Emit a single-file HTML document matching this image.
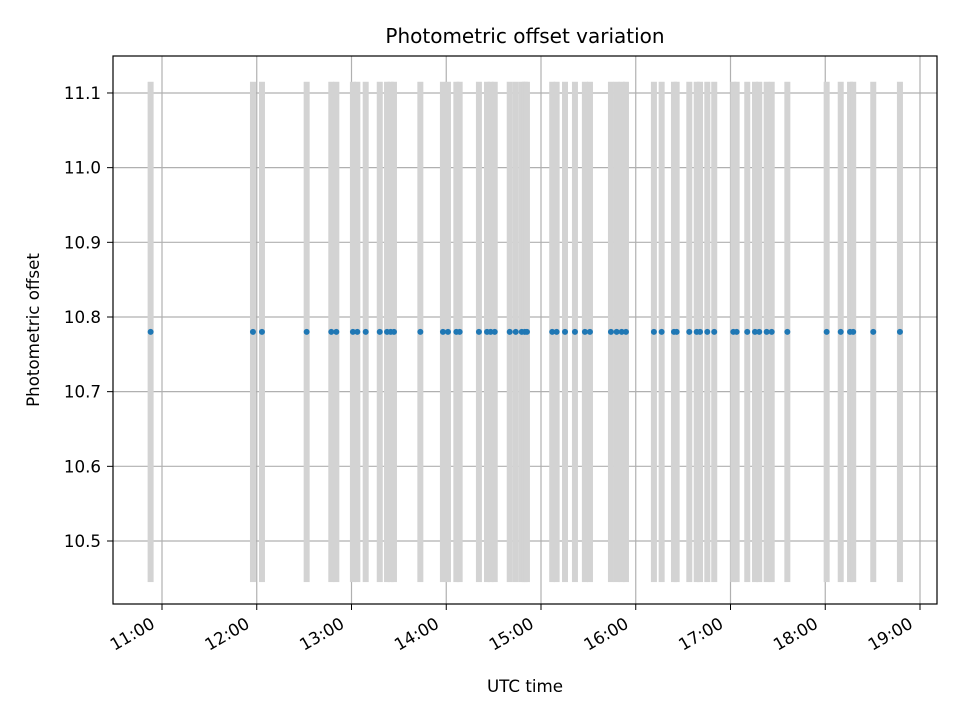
<!DOCTYPE html>
<html><head><meta charset="utf-8"><style>
body{margin:0;background:#fff;}
svg{display:block;font-family:"DejaVu Sans","Liberation Sans",sans-serif;}
</style></head><body>
<svg id="chart" width="960" height="720" viewBox="0 0 960 720" xmlns="http://www.w3.org/2000/svg">
<rect x="0" y="0" width="960" height="720" fill="#fff"/>
<g id="grid"></g>
<g id="bars"></g>
<g id="points"></g>
<rect x="113" y="56" width="824" height="548" fill="none" stroke="#000" stroke-width="1.2"/>
<g id="axes"></g>
<text x="525" y="43" font-size="20" text-anchor="middle">Photometric offset variation</text>
<text x="525" y="692" font-size="16.7" text-anchor="middle">UTC time</text>
<text transform="translate(39,330) rotate(-90)" font-size="16.7" text-anchor="middle">Photometric offset</text>
</svg>
<script>
// minutes after 11:00 UTC
const times = [-7.2,57.6,63.3,91.6,107.2,110.4,120.9,123.7,129,137.9,142.5,144.8,146.9,163.6,177.9,181.1,186.4,188.5,200.7,205.8,208.1,210.7,220.2,224,227.8,229.7,231.1,247.1,249.9,255.2,261.5,267.8,271,284.3,287.9,291.1,293.8,311.5,316.4,324.2,325.9,333.9,338.6,340.7,345.3,349.7,361.8,363.9,370.6,375.5,378.2,382.9,386.1,396,420.9,429.8,435.7,437.7,450.4,467.3];
const offsets = times.map(()=>10.78);
const errors = times.map(()=>0.335);
const yTicks = [10.5,10.6,10.7,10.8,10.9,11.0,11.1];
const xTickLabels = ["11:00","12:00","13:00","14:00","15:00","16:00","17:00","18:00","19:00"];
const NS="http://www.w3.org/2000/svg";
const xS = m => 162 + m/60*94.75;
const yS = v => 541 - (v-10.5)/0.1*74.67;
function mk(tag, attrs, parent){const e=document.createElementNS(NS,tag);for(const k in attrs)e.setAttribute(k,attrs[k]);parent.appendChild(e);return e;}
const grid=document.getElementById('grid'), bars=document.getElementById('bars'), pts=document.getElementById('points'), axes=document.getElementById('axes');
yTicks.forEach(v=>{
  const y=yS(v);
  const g=mk('line',{x1:113,x2:937,y1:y,y2:y,stroke:'#b0b0b0','stroke-width':1.2},grid);
  
  
  mk('line',{x1:107,x2:113,y1:y,y2:y,stroke:'#000','stroke-width':1},axes);
  const t=mk('text',{x:101,y:y+6,'font-size':16.7,'text-anchor':'end'},axes);
  t.textContent=v.toFixed(1);
  
  
});
xTickLabels.forEach((lab,i)=>{
  const x=xS(i*60);
  const g=mk('line',{x1:x,x2:x,y1:56,y2:604,stroke:'#b0b0b0','stroke-width':1.2},grid);
  
  
  mk('line',{x1:x,x2:x,y1:604,y2:610,stroke:'#000','stroke-width':1},axes);
  const t=mk('text',{transform:`translate(${x-6},${627}) rotate(-30)`,'font-size':16.7,'text-anchor':'end'},axes);
  t.textContent=lab;
  
  
});
times.forEach((m,i)=>{
  const x=xS(m);
  const b=mk('rect',{x:x-3,y:yS(offsets[i]+errors[i]),width:6,height:yS(offsets[i]-errors[i])-yS(offsets[i]+errors[i]),fill:'#d3d3d3'},bars);
  
  
});
times.forEach((m,i)=>{
  const c=mk('circle',{cx:xS(m),cy:yS(offsets[i]),r:3,fill:'#1f77b4'},pts);
  
  
});
</script>
</body></html>
